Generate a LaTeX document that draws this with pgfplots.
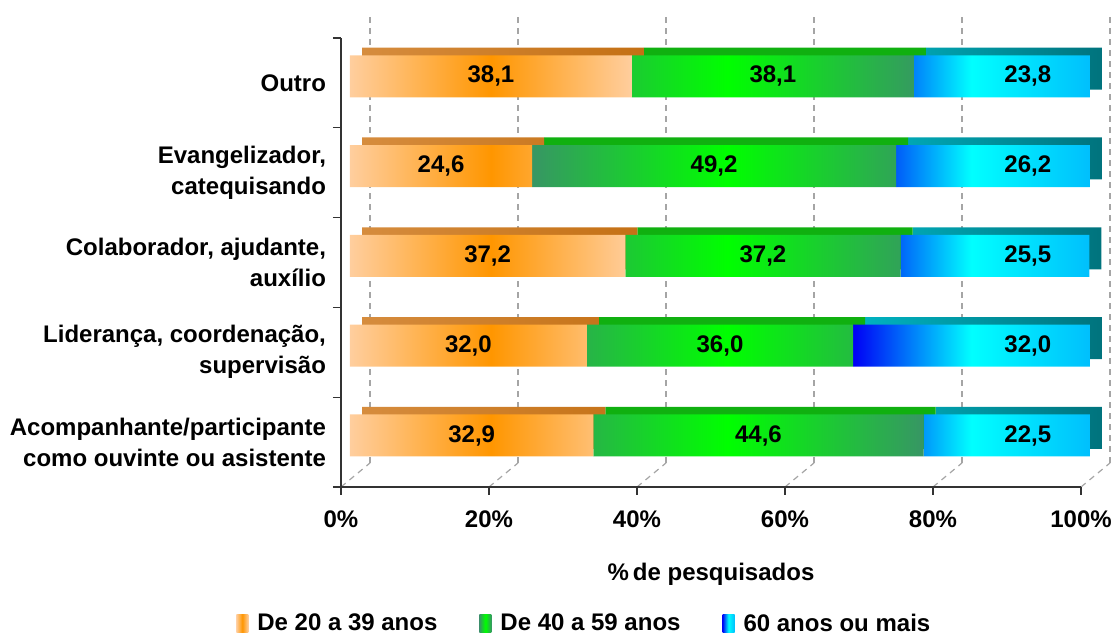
\documentclass[border=0pt]{standalone}
\usepackage{fontspec}
\setmainfont{Liberation Sans}
\usepackage{pgfplots}
\pgfplotsset{compat=1.18}
\usepackage{pgfplotstable}

\definecolor{orA}{RGB}{255,206,158}
\definecolor{orB}{RGB}{255,150,0}
\definecolor{grA}{RGB}{55,150,100}
\definecolor{grB}{RGB}{0,255,0}
\definecolor{blA}{RGB}{0,0,245}
\definecolor{blB}{RGB}{0,255,255}
\definecolor{orTop}{RGB}{196,112,20}
\definecolor{grTop}{RGB}{16,176,16}
\definecolor{blTop}{RGB}{0,178,192}
\definecolor{blSide}{RGB}{0,115,125}
\definecolor{gridgray}{RGB}{165,165,165}

\pgfplotstableread{
y a b c
0 32.9 44.6 22.5
1 32.0 36.0 32.0
2 37.2 37.2 25.5
3 24.6 49.2 26.2
4 38.1 38.1 23.8
}\datatable

\newcommand{\lblfont}{\fontsize{12}{15.5}\selectfont\bfseries}

\pgfplotsset{
  base/.style={scale only axis, width=370pt, height=224.5pt,
    xmin=0, xmax=100, ymin=-0.5, ymax=4.5, anchor=south west},
  sqleg/.style={legend image code/.code={\path[##1,draw=none] (0pt,-4.5pt) rectangle (6pt,4.5pt);
    \path (0pt,0pt) -- (8.5pt,0pt);}},
  lbl/.style={xbar, bar shift=0pt, bar width=1pt, draw=none, fill=none,
    nodes near coords, nodes near coords align={center}},
}

\begin{document}
\begin{tikzpicture}
\path[use as bounding box] (0,0) rectangle (557.5pt,317.5pt);

% back wall grid
\begin{axis}[base, at={(185pt,86pt)},
  axis line style={draw=none}, xtick={0,20,...,100}, xticklabels={,,,,,}, ytick=\empty,
  major tick length=0pt, xmajorgrids,
  major grid style={gridgray, dash pattern=on 3pt off 2.5pt, line width=0.6pt}]
\end{axis}
% floor dashed lines
\foreach \i in {0,...,5}
  \draw[gridgray, dash pattern=on 3pt off 2.5pt, line width=0.6pt]
    (170.5pt+74pt*\i, 74pt) -- (185pt+74pt*\i, 86pt);

% floor / frame axis
\begin{axis}[base, at={(170.5pt,74pt)},
  axis lines*=left,
  axis line style={black!80, line width=0.6pt},
  tick style={black!80, line width=0.6pt},
  tick align=outside, major tick length=4pt,
  xtick={0,20,...,100},
  xticklabels={0\%,20\%,40\%,60\%,80\%,100\%},
  xticklabel style={yshift=-4.5pt},
  ytick={-0.5,0.5,...,4.5}, yticklabels={,,,,,},
  extra y ticks={0,1,2,3,4},
  extra y tick labels={{Acompanhante/participante\\como ouvinte ou asistente},
    {Liderança, coordenação,\\supervisão},
    {Colaborador, ajudante,\\auxílio},
    {Evangelizador,\\catequisando},
    {Outro}},
  extra y tick style={tick style={draw=none}},
  tick label style={font=\lblfont},
  yticklabel style={align=right},
  xlabel={\%\,de pesquisados},
  xlabel style={font=\lblfont, at={(axis description cs:0.5,0)}, anchor=center, yshift=-43.5pt},
]
\end{axis}

% top / side faces of the bars
\begin{axis}[base, at={(181pt,81.1pt)}, hide axis, xbar stacked, bar width=21pt]
\addplot[draw=none, left color=orTop!70!orA, right color=orTop] table[x=a, y=y] {\datatable};
\addplot[draw=none, fill=grTop] table[x=b, y=y] {\datatable};
\addplot[draw=none, left color=blTop, right color=blSide] table[x=c, y=y] {\datatable};
\end{axis}

% front faces
\begin{axis}[base, at={(175pt,77.3pt)}, hide axis, xbar stacked, bar width=21pt,
  legend columns=3,
  legend style={at={(axis description cs:0.318,-0.3198)}, anchor=center,
    draw=none, fill=none, font=\lblfont,
    /tikz/every even column/.append style={column sep=19pt}},
]
\addplot[draw=none, sqleg, left color=orA, right color=orA, middle color=orB]
  table[x=a, y=y] {\datatable};
\addplot[draw=none, sqleg, left color=grA, right color=grA, middle color=grB]
  table[x=b, y=y] {\datatable};
\addplot[draw=none, sqleg, left color=blA, right color=blB!75!blA, middle color=blB]
  table[x=c, y=y] {\datatable};
\legend{De 20 a 39 anos, De 40 a 59 anos, 60 anos ou mais}
\end{axis}

% value labels
\begin{axis}[base, at={(175pt,77.3pt)}, hide axis,
  point meta=explicit,
  every node near coord/.append style={anchor=center, font=\lblfont, text=black},
  /pgf/number format/.cd, fixed, fixed zerofill, precision=1, use comma, assume math mode=true]
\addplot[lbl] table[x expr=\thisrow{a}/2, y=y, meta=a] {\datatable};
\addplot[lbl] table[x expr=\thisrow{a}+\thisrow{b}/2, y=y, meta=b] {\datatable};
\addplot[lbl] table[x expr=91.6, y=y, meta=c] {\datatable};
\end{axis}
\end{tikzpicture}
\end{document}
